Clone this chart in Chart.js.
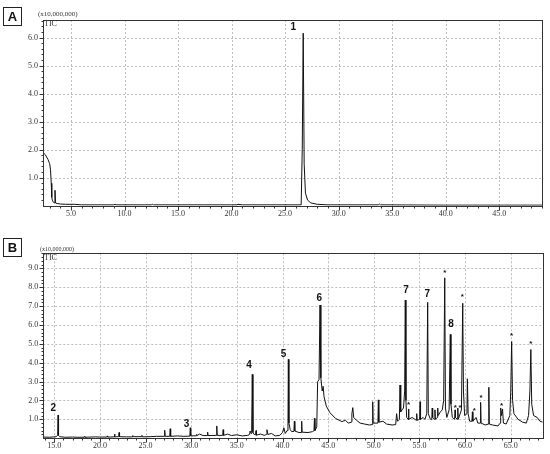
<!DOCTYPE html>
<html><head><meta charset="utf-8">
<script src="https://cdn.jsdelivr.net/npm/chart.js@4"></script>
<style>
body{margin:0;background:#fff;width:550px;height:454px;position:relative;overflow:hidden}
canvas{position:absolute;left:0}
.panel{position:absolute;left:3px;width:17px;height:17px;border:1px solid #222;font:bold 13px 'Liberation Sans';text-align:center;line-height:18px;color:#111;box-sizing:content-box}
.lbl{position:absolute;font-family:'Liberation Serif';color:#333;white-space:nowrap;line-height:1}
</style></head>
<body>
<canvas id="ca" width="550" height="225" style="top:0"></canvas>
<canvas id="cb" width="550" height="229" style="top:225px"></canvas>
<div class="panel" style="top:7px">A</div>
<div class="panel" style="top:238px">B</div>
<div class="lbl" style="left:38px;top:11px;font-size:7px">(x10,000,000)</div>
<div class="lbl" style="left:44px;top:20px;font-size:8px">TIC</div>
<div class="lbl" style="left:40px;top:246px;font-size:6px">(x10,000,000)</div>
<div class="lbl" style="left:44px;top:254px;font-size:8px">TIC</div>
<script>
// ---- Panel A data (retention time, min ; intensity x10,000,000)
const aTime = [2.38,2.6,2.85,3.0,3.08,3.15,3.2,3.25,3.35,3.45,3.5,3.55,3.7,4.0,4.5,5.3,6.0,9.0,9.1,9.2,12.5,12.6,12.7,17.5,20.0,20.5,20.6,21.0,26.5,26.6,26.69,26.78,26.9,27.1,27.4,28.0,29.0,33.7,33.8,33.9,40.0,49.0];
const aTIC  = [1.9,1.82,1.65,1.5,1.3,0.8,0.3,0.2,0.12,0.1,0.55,0.1,0.08,0.06,0.05,0.05,0.03,0.03,0.05,0.03,0.03,0.05,0.03,0.03,0.03,0.03,0.05,0.03,0.03,2.0,6.16,1.5,0.45,0.2,0.1,0.05,0.03,0.03,0.06,0.03,0.02,0.02];
const aPeaks = [{t:'1',x:25.76,y:6.37}];
const aXTicks = [5,10,15,20,25,30,35,40,45];
const aYTicks = [1,2,3,4,5,6];

// ---- Panel B data
const bTime = [13.8,14.5,15.2,15.37,15.42,15.47,15.6,16.2,17.0,17.5,18.25,18.3,18.35,19.5,20.0,20.75,20.8,20.85,21.55,21.6,21.65,22.05,22.1,22.15,22.9,23.55,23.6,23.65,24.55,24.6,24.65,25.5,26.2,27.05,27.1,27.15,27.65,27.7,27.75,28.5,29.2,29.85,29.9,29.95,30.55,30.6,30.65,30.9,31.3,31.75,31.8,31.85,32.75,32.8,32.85,33.45,33.5,33.55,34.0,34.4,35.0,35.6,36.2,36.4,36.45,36.55,36.62,36.69,36.76,36.9,37.05,37.1,37.15,37.6,38.0,38.25,38.3,38.4,38.8,39.2,39.7,40.0,40.15,40.3,40.5,40.6,40.64,40.7,40.85,41.0,41.25,41.3,41.35,41.8,42.05,42.1,42.15,42.8,43.3,43.45,43.5,43.55,43.75,43.85,44.0,44.11,44.2,44.35,44.45,44.55,44.8,45.2,45.8,46.5,46.9,47.2,47.55,47.6,47.7,47.8,48.1,48.5,49.0,49.5,49.83,49.88,49.93,50.45,50.5,50.55,51.0,51.4,52.0,52.4,52.5,52.6,52.8,52.87,52.95,53.1,53.25,53.38,53.45,53.52,53.6,53.75,53.8,53.85,54.2,54.5,54.65,54.7,54.75,55.02,55.07,55.12,55.4,55.6,55.8,55.9,55.97,56.2,56.35,56.4,56.45,56.65,56.7,56.75,56.95,57.0,57.05,57.3,57.5,57.65,57.77,57.85,58.0,58.25,58.38,58.45,58.6,58.85,58.9,58.95,59.15,59.2,59.25,59.6,59.74,59.82,59.95,60.2,60.25,60.33,60.5,60.75,60.8,60.85,61.2,61.4,61.65,61.7,61.75,62.2,62.55,62.6,62.65,63.0,63.6,63.85,63.9,64.0,64.1,64.2,64.5,64.9,65.0,65.1,65.2,65.35,65.8,66.3,66.7,66.95,67.1,67.2,67.3,67.5,67.9,68.2,68.5];
const bTIC  = [0.06,0.05,0.08,0.15,1.23,0.15,0.08,0.05,0.06,0.05,0.05,0.09,0.05,0.07,0.06,0.06,0.12,0.06,0.07,0.22,0.07,0.08,0.3,0.08,0.07,0.07,0.14,0.08,0.08,0.15,0.07,0.08,0.1,0.1,0.42,0.1,0.1,0.5,0.1,0.12,0.1,0.11,0.55,0.12,0.13,0.2,0.14,0.22,0.14,0.14,0.32,0.14,0.15,0.65,0.15,0.15,0.45,0.15,0.22,0.14,0.18,0.12,0.15,0.2,0.38,0.25,0.3,3.38,0.3,0.2,0.18,0.4,0.16,0.22,0.15,0.2,0.45,0.2,0.25,0.12,0.15,0.3,0.55,0.25,0.4,0.6,4.18,0.8,0.45,0.35,0.36,0.9,0.38,0.3,0.3,0.9,0.32,0.3,0.35,0.4,1.05,0.4,0.6,3.0,3.1,7.06,3.2,2.5,2.75,2.2,1.7,1.35,1.05,0.88,0.95,0.8,0.85,1.3,1.62,1.1,0.95,0.8,0.75,0.7,0.72,1.93,0.8,0.8,2.03,0.85,0.9,0.75,0.7,0.72,1.3,0.9,1.0,2.82,1.4,1.5,1.6,2.5,7.32,2.0,1.1,1.0,1.55,1.0,1.1,1.0,0.95,1.3,0.95,1.0,1.93,1.0,1.1,1.0,1.3,7.2,1.3,1.0,1.0,1.6,1.1,1.0,1.5,1.0,1.1,1.6,1.2,1.4,1.5,2.0,8.5,1.6,1.1,1.5,5.5,1.8,1.1,1.0,1.5,1.1,1.0,1.6,1.0,1.5,7.15,2.5,1.2,1.3,3.15,1.3,0.9,0.9,1.4,0.9,1.1,0.8,0.8,1.9,0.8,0.7,0.75,2.7,0.75,0.7,0.65,0.8,1.6,1.2,1.55,0.8,0.75,1.2,2.5,5.12,2.0,1.3,1.0,0.85,0.8,1.2,2.5,4.7,1.8,1.2,1.1,0.9,0.85];
const bPeaks = [
  {t:'2',x:14.9,y:1.58},{t:'3',x:29.5,y:0.74},{t:'4',x:36.33,y:3.88},{t:'5',x:40.1,y:4.44},
  {t:'6',x:44.03,y:7.44},{t:'7',x:53.53,y:7.85},{t:'7',x:55.87,y:7.64},{t:'*',x:57.77,y:8.79,s:1},
  {t:'8',x:58.46,y:6.03},{t:'*',x:59.7,y:7.52,s:1},{t:'*',x:65.1,y:5.41,s:1},{t:'*',x:67.2,y:5.03,s:1},
  {t:'*',x:53.8,y:1.76,s:1},{t:'*',x:61.0,y:1.44,s:1},{t:'*',x:61.75,y:2.15,s:1},{t:'*',x:64.0,y:1.7,s:1},
  {t:'*',x:58.93,y:1.62,s:1},{t:'*',x:59.44,y:1.62,s:1}
];
const bXTicks = [15,20,25,30,35,40,45,50,55,60,65];
const bYTicks = [1,2,3,4,5,6,7,8,9];

const deco = {
  id:'deco',
  beforeDatasetsDraw(chart){
    const c = chart.ctx, a = chart.chartArea, xs = chart.scales.x, ys = chart.scales.y, o = chart.options.plugins.deco;
    c.save();
    c.strokeStyle = '#bdbdbd'; c.lineWidth = 1; c.setLineDash([2,2]);
    o.xt.forEach(v=>{const p=Math.round(xs.getPixelForValue(v))+0.5;c.beginPath();c.moveTo(p,a.top);c.lineTo(p,a.bottom);c.stroke();});
    o.yt.forEach(v=>{const p=Math.round(ys.getPixelForValue(v))+0.5;c.beginPath();c.moveTo(a.left,p);c.lineTo(a.right,p);c.stroke();});
    c.restore();
  },
  afterDatasetsDraw(chart){
    const c = chart.ctx, a = chart.chartArea, xs = chart.scales.x, ys = chart.scales.y, o = chart.options.plugins.deco;
    c.save();
    c.strokeStyle = '#333'; c.lineWidth = 1;
    const L=Math.round(a.left)+0.5, R=Math.round(a.right)+0.5, T=Math.round(a.top)+0.5, B=Math.round(a.bottom)+0.5;
    c.strokeRect(L,T,R-L,B-T);
    c.beginPath();
    for(let v=Math.ceil(xs.min); v<=xs.max; v+=1){
      const p=Math.round(xs.getPixelForValue(v))+0.5, len=(v%5===0)?4:2;
      c.moveTo(p,B);c.lineTo(p,B+len);
    }
    for(let i=1;i*0.2<=ys.max;i++){
      const v=i*0.2, p=Math.round(ys.getPixelForValue(v))+0.5, len=(i%5===0)?4:2;
      c.moveTo(L,p);c.lineTo(L-len,p);
    }
    c.stroke();
    c.fillStyle='#111'; c.textAlign='center'; c.textBaseline='middle';
    o.peaks.forEach(pk=>{
      c.font = pk.s ? 'bold 8px "Liberation Sans"' : 'bold 10px "Liberation Sans"';
      c.fillText(pk.t, xs.getPixelForValue(pk.x), ys.getPixelForValue(pk.y));
    });
    c.restore();
  }
};

function make(id, xs, ys, cfg){
  const pts = xs.map((x,i)=>({x, y: ys[i]}));
  return new Chart(document.getElementById(id), {
    type:'line',
    data:{datasets:[{data:pts, borderColor:'#111', borderWidth:1, pointRadius:0, tension:0, fill:false}]},
    plugins:[deco],
    options:{
      responsive:false, animation:false, devicePixelRatio:1,
      layout:{padding:{top:cfg.top, right:cfg.right, left:0, bottom:0}},
      plugins:{legend:{display:false}, tooltip:{enabled:false}, deco:{xt:cfg.xt, yt:cfg.yt, peaks:cfg.peaks}},
      scales:{
        x:{type:'linear', min:cfg.xmin, max:cfg.xmax,
           grid:{display:false, drawTicks:false}, border:{display:false},
           afterBuildTicks:s=>{s.ticks=cfg.xt.map(v=>({value:v}));},
           afterFit:s=>{s.height=cfg.bottomH;},
           ticks:{padding:3, maxRotation:0, autoSkip:false, color:'#333', font:{family:'Liberation Serif', size:8}, callback:v=>Number(v).toFixed(1)}},
        y:{type:'linear', min:0, max:cfg.ymax,
           grid:{display:false, drawTicks:false}, border:{display:false},
           afterBuildTicks:s=>{s.ticks=cfg.yt.map(v=>({value:v}));},
           afterFit:s=>{s.width=cfg.left;},
           ticks:{padding:5, color:'#333', font:{family:'Liberation Serif', size:8}, callback:v=>Number(v).toFixed(1)}}
      }
    }
  });
}

make('ca', aTime, aTIC, {xmin:2.38, xmax:49.0, ymax:6.63, xt:aXTicks, yt:aYTicks, peaks:aPeaks, top:20, right:8, left:43, bottomH:19.3});
make('cb', bTime, bTIC, {xmin:13.8, xmax:68.5, ymax:9.8, xt:bXTicks, yt:bYTicks, peaks:bPeaks, top:28.3, right:7.3, left:43.3, bottomH:15.8});
</script>
</body></html>
